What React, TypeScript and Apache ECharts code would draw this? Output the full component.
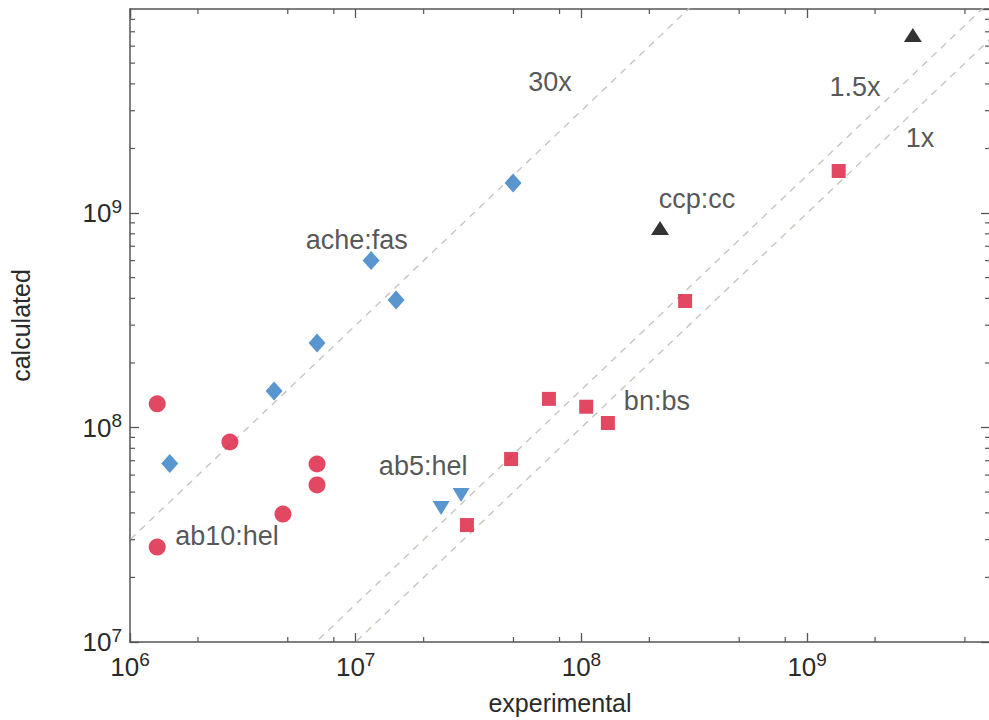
import React, { useEffect, useRef } from "react";
import * as echarts from "echarts";

// ---- data ----
const acheFas: [number, number][] = [
  [1.5e6, 6.8e7],
  [4.35e6, 1.48e8],
  [6.74e6, 2.48e8],
  [1.17e7, 6.0e8],
  [1.51e7, 3.93e8],
  [4.98e7, 1.38e9],
];
const ab10Hel: [number, number][] = [
  [1.32e6, 1.29e8],
  [2.77e6, 8.56e7],
  [6.74e6, 6.76e7],
  [6.74e6, 5.4e7],
  [4.76e6, 3.95e7],
  [1.32e6, 2.77e7],
];
const ab5Hel: [number, number][] = [
  [2.39e7, 4.21e7],
  [2.93e7, 4.85e7],
];
const bnBs: [number, number][] = [
  [3.11e7, 3.51e7],
  [4.88e7, 7.13e7],
  [7.18e7, 1.36e8],
  [1.05e8, 1.25e8],
  [1.31e8, 1.05e8],
  [2.88e8, 3.89e8],
  [1.38e9, 1.57e9],
];
const ccpCc: [number, number][] = [
  [2.23e8, 8.51e8],
  [2.94e9, 6.76e9],
];
const ratioLines = [30, 1.5, 1];
const ratioLineXs = [1e5, 1e11];
const annotations = [
  { name: "ache:fas", value: [1.01e7, 7.48e8] },
  { name: "ccp:cc", value: [3.25e8, 1.16e9] },
  { name: "bn:bs", value: [2.16e8, 1.33e8] },
  { name: "ab5:hel", value: [1.99e7, 6.62e7] },
  { name: "ab10:hel", value: [2.69e6, 3.12e7] },
  { name: "30x", value: [7.26e7, 4.08e9] },
  { name: "1.5x", value: [1.63e9, 3.87e9] },
  { name: "1x", value: [3.16e9, 2.24e9] },
];
const xMin = 1e6;
const xMax = 6.46e9;
const yMin = 1e7;
const yMax = 8.94e9;
const xMinorTicks = [
  2e6, 5e6, 8e6, 2e7, 5e7, 8e7, 2e8, 5e8, 8e8, 2e9, 5e9,
];
const yMinorTicks = [
  2e7, 3e7, 4e7, 5e7, 6e7, 7e7, 8e7, 9e7,
  2e8, 3e8, 4e8, 5e8, 6e8, 7e8, 8e8, 9e8,
  2e9, 3e9, 4e9, 5e9, 6e9, 7e9, 8e9,
];

const FONT = "'Liberation Sans', Arial, Helvetica, sans-serif";
const AXIS_COLOR = "#555";
const TEXT_COLOR = "#2a2a2a";
const RED = "#dc1a3c";
const BLUE = "#2f7bc2";

const powFormatter = (v: number) => {
  const e = Math.round(Math.log10(v));
  if (Math.abs(v - Math.pow(10, e)) / v > 1e-6) return "";
  return `{b|10}{s|${e}}`;
};

const richLabels = {
  b: { fontSize: 26, color: TEXT_COLOR, fontFamily: FONT },
  s: { fontSize: 19, color: TEXT_COLOR, fontFamily: FONT, padding: [0, 0, 14, 0] },
};

export default function App() {
  const ref = useRef<HTMLDivElement>(null);
  useEffect(() => {
    if (!ref.current) return;
    const chart = echarts.init(ref.current, undefined, { renderer: "svg" });

    const baseAxis = {
      type: "log" as const,
      logBase: 10,
      splitNumber: 3,
      splitLine: { show: false },
      axisLine: { show: true, lineStyle: { color: AXIS_COLOR, width: 1.5 } },
      axisTick: { show: true, inside: true, length: 9, lineStyle: { color: AXIS_COLOR, width: 1.3 } },
    };

    const tickStyle = { stroke: AXIS_COLOR, lineWidth: 1.2 };

    const option: any = {
      animation: false,
      backgroundColor: "#fff",
      textStyle: { fontFamily: FONT },
      grid: { left: 130, top: 9, width: 860, height: 633, outerBoundsMode: "none", containLabel: false },
      xAxis: [
        {
          ...baseAxis,
          position: "bottom",
          min: xMin,
          max: xMax,
          name: "experimental",
          nameLocation: "middle",
          nameGap: 48,
          nameTextStyle: { fontSize: 25, color: TEXT_COLOR, fontFamily: FONT },
          axisLabel: { formatter: powFormatter, rich: richLabels, margin: 8, showMaxLabel: false },
        },
        {
          ...baseAxis,
          position: "top",
          min: xMin,
          max: xMax,
          axisLabel: { show: false },
        },
      ],
      yAxis: [
        {
          ...baseAxis,
          position: "left",
          min: yMin,
          max: yMax,
          name: "calculated",
          nameLocation: "middle",
          nameGap: 97,
          nameTextStyle: { fontSize: 25, color: TEXT_COLOR, fontFamily: FONT },
          axisLabel: { formatter: powFormatter, rich: richLabels, margin: 8, showMaxLabel: false },
        },
        {
          ...baseAxis,
          position: "right",
          min: yMin,
          max: yMax,
          axisLabel: { show: false },
        },
      ],
      series: [
        ...ratioLines.map((k) => ({
          type: "line",
          data: ratioLineXs.map((x) => [x, x * k]),
          symbol: "none",
          clip: true,
          silent: true,
          lineStyle: { color: "#c4c7bd", width: 1.4, type: [7, 6] },
          z: 1,
        })),
        {
          type: "custom",
          data: xMinorTicks.map((v) => [v, yMin]),
          silent: true,
          renderItem: (params: any, api: any) => {
            const cs = params.coordSys;
            const x = api.coord([api.value(0), yMin])[0];
            const b = cs.y + cs.height;
            return {
              type: "group",
              children: [
                { type: "line", shape: { x1: x, y1: b, x2: x, y2: b - 5 }, style: tickStyle },
                { type: "line", shape: { x1: x, y1: cs.y, x2: x, y2: cs.y + 5 }, style: tickStyle },
              ],
            };
          },
          z: 3,
        },
        {
          type: "custom",
          data: yMinorTicks.map((v) => [xMin, v]),
          silent: true,
          renderItem: (params: any, api: any) => {
            const cs = params.coordSys;
            const y = api.coord([xMin, api.value(1)])[1];
            const r = cs.x + cs.width;
            return {
              type: "group",
              children: [
                { type: "line", shape: { x1: cs.x, y1: y, x2: cs.x + 5, y2: y }, style: tickStyle },
                { type: "line", shape: { x1: r, y1: y, x2: r - 5, y2: y }, style: tickStyle },
              ],
            };
          },
          z: 3,
        },
        {
          type: "scatter",
          data: acheFas,
          symbol: "diamond",
          symbolSize: [17, 19],
          itemStyle: { color: BLUE },
          z: 5,
        },
        {
          type: "scatter",
          data: ab10Hel,
          symbol: "circle",
          symbolSize: 17,
          itemStyle: { color: RED },
          z: 5,
        },
        {
          type: "scatter",
          data: ab5Hel,
          symbol: "triangle",
          symbolRotate: 180,
          symbolSize: [17, 14],
          itemStyle: { color: BLUE },
          z: 5,
        },
        {
          type: "scatter",
          data: bnBs,
          symbol: "rect",
          symbolSize: 14,
          itemStyle: { color: RED },
          z: 5,
        },
        {
          type: "scatter",
          data: ccpCc,
          symbol: "triangle",
          symbolSize: [18, 14],
          itemStyle: { color: "#000" },
          z: 5,
        },
        {
          type: "scatter",
          data: annotations,
          symbolSize: 0,
          silent: true,
          label: {
            show: true,
            position: "inside",
            formatter: "{b}",
            fontSize: 27,
            color: TEXT_COLOR,
            fontFamily: FONT,
          },
          z: 6,
        },
      ],
    };
    chart.setOption(option);
    return () => chart.dispose();
  }, []);

  return (
    <div
      ref={ref}
      style={{ position: "absolute", left: 0, top: 0, width: 989, height: 720, background: "#fff" }}
    />
  );
}
